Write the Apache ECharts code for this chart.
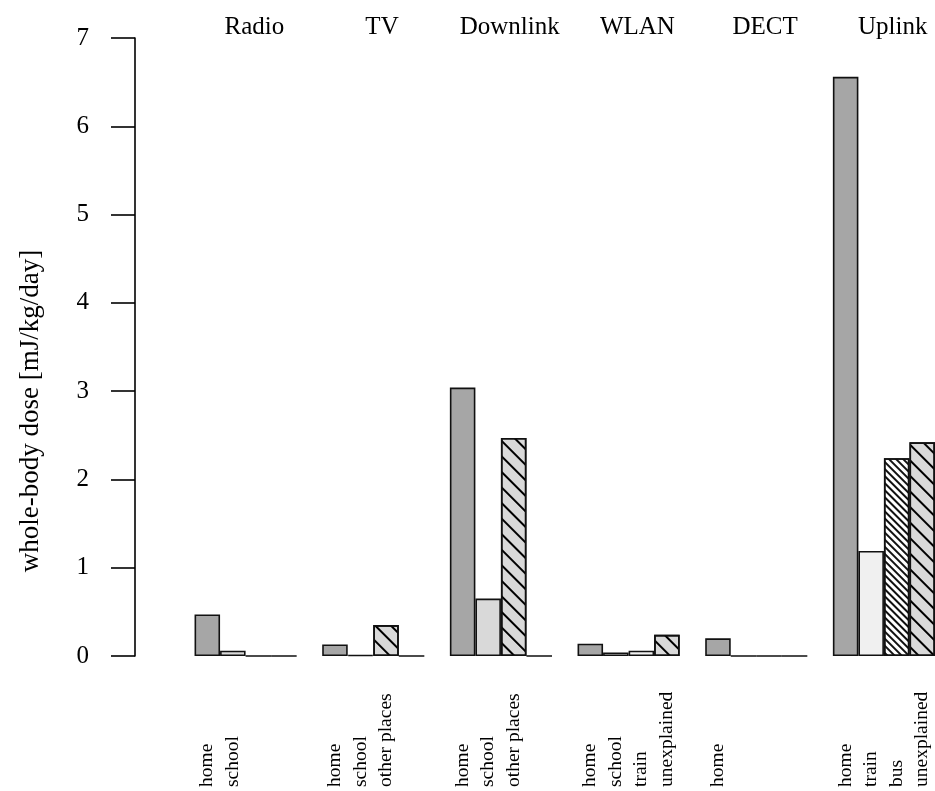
<!DOCTYPE html>
<html>
<head>
<meta charset="utf-8">
<script src="https://cdn.jsdelivr.net/npm/echarts@6/dist/echarts.min.js"></script>
<style>
  html, body { margin: 0; padding: 0; background: #fff; }
  #chart { width: 935px; height: 791px; }
</style>
</head>
<body>
<div id="chart"></div>
<script>
// Exposure sources (one group of four bars each)
const sources = ['Radio', 'TV', 'Downlink', 'WLAN', 'DECT', 'Uplink'];

// Place labels for the four bars of each source ('' = unused slot)
const radioPlaces    = ['home', 'school', '', ''];
const tvPlaces       = ['home', 'school', 'other places', ''];
const downlinkPlaces = ['home', 'school', 'other places', ''];
const wlanPlaces     = ['home', 'school', 'train', 'unexplained'];
const dectPlaces     = ['home', '', '', ''];
const uplinkPlaces   = ['home', 'train', 'bus', 'unexplained'];

// Whole-body dose per place, mJ/kg/day
const radioDose    = [0.47, 0.06, 0, 0];
const tvDose       = [0.13, 0.01, 0.35, 0];
const downlinkDose = [3.04, 0.65, 2.47, 0];
const wlanDose     = [0.14, 0.04, 0.06, 0.24];
const dectDose     = [0.20, 0, 0, 0];
const uplinkDose   = [6.56, 1.19, 2.24, 2.42];

// Y-axis ticks
const yTicks = [0, 1, 2, 3, 4, 5, 6, 7];

const placesBySource = [radioPlaces, tvPlaces, downlinkPlaces, wlanPlaces, dectPlaces, uplinkPlaces];
const doseBySource = [radioDose, tvDose, downlinkDose, wlanDose, dectDose, uplinkDose];

const FONT = 'Liberation Serif';

// Fill / hatch for each kind of place
const sparseHatch = {
  symbol: 'rect', symbolSize: 1, color: '#000',
  dashArrayX: [1, 0], dashArrayY: [1.3, 8.2], rotation: Math.PI / 4
};
const denseHatch = {
  symbol: 'rect', symbolSize: 1, color: '#111',
  dashArrayX: [1, 0], dashArrayY: [1.3, 2.3], rotation: Math.PI / 4
};
const placeStyle = {
  'home':         { color: '#a6a6a6' },
  'school':       { color: '#d9d9d9' },
  'train':        { color: '#f0f0f0' },
  'other places': { color: '#d9d9d9', decal: sparseHatch },
  'unexplained':  { color: '#d9d9d9', decal: sparseHatch },
  'bus':          { color: '#ffffff', decal: denseHatch },
  '':             { color: '#ffffff' }
};

// Build category slots: a spacer slot before each group, then its four bars
const bottomLabels = [];
const topLabels = [];
const barData = [];
sources.forEach((src, g) => {
  bottomLabels.push('');
  topLabels.push('');
  barData.push({ value: '-', itemStyle: { opacity: 0 } });
  placesBySource[g].forEach((place, i) => {
    bottomLabels.push(place);
    topLabels.push(i === 2 ? src : '');
    const st = placeStyle[place];
    const item = {
      value: doseBySource[g][i],
      itemStyle: { color: st.color, borderColor: '#111', borderWidth: 1.6 }
    };
    if (st.decal) item.itemStyle.decal = st.decal;
    barData.push(item);
  });
});

const chart = echarts.init(document.getElementById('chart'), null, { renderer: 'canvas' });

chart.setOption({
  animation: false,
  backgroundColor: '#ffffff',
  grid: { left: 169, top: 38, width: 770, bottom: 135, containLabel: false },
  xAxis: [
    {
      type: 'category',
      position: 'bottom',
      data: bottomLabels,
      boundaryGap: true,
      axisLine: { show: false },
      axisTick: { show: false },
      axisLabel: {
        interval: 0,
        rotate: 90,
        align: 'left',
        verticalAlign: 'middle',
        margin: 131,
        fontFamily: FONT,
        fontSize: 19.5,
        color: '#000'
      }
    },
    {
      type: 'category',
      position: 'top',
      data: topLabels,
      boundaryGap: true,
      axisLine: { show: false },
      axisTick: { show: false },
      axisLabel: {
        interval: 0,
        margin: -2,
        padding: [0, 8, 0, 0],
        fontFamily: FONT,
        fontSize: 25,
        color: '#000'
      }
    }
  ],
  yAxis: {
    type: 'value',
    min: yTicks[0],
    max: yTicks[yTicks.length - 1],
    interval: 1,
    offset: 34,
    splitLine: { show: false },
    axisLine: { show: true, lineStyle: { color: '#000', width: 1.6 } },
    axisTick: { show: true, length: 24, lineStyle: { color: '#000', width: 1.6 } },
    axisLabel: {
      margin: 46,
      fontFamily: FONT,
      fontSize: 25,
      color: '#000'
    }
  },
  series: [
    {
      type: 'bar',
      data: barData,
      barWidth: '100%',
      barCategoryGap: 0,
      xAxisIndex: 0,
      silent: true
    }
  ],
  graphic: [
    {
      type: 'text',
      x: 31,
      y: 411,
      rotation: Math.PI / 2,
      style: {
        text: 'whole-body dose [mJ/kg/day]',
        fontFamily: FONT,
        fontSize: 27,
        fill: '#000',
        align: 'center',
        verticalAlign: 'middle'
      }
    }
  ]
});
</script>
</body>
</html>
